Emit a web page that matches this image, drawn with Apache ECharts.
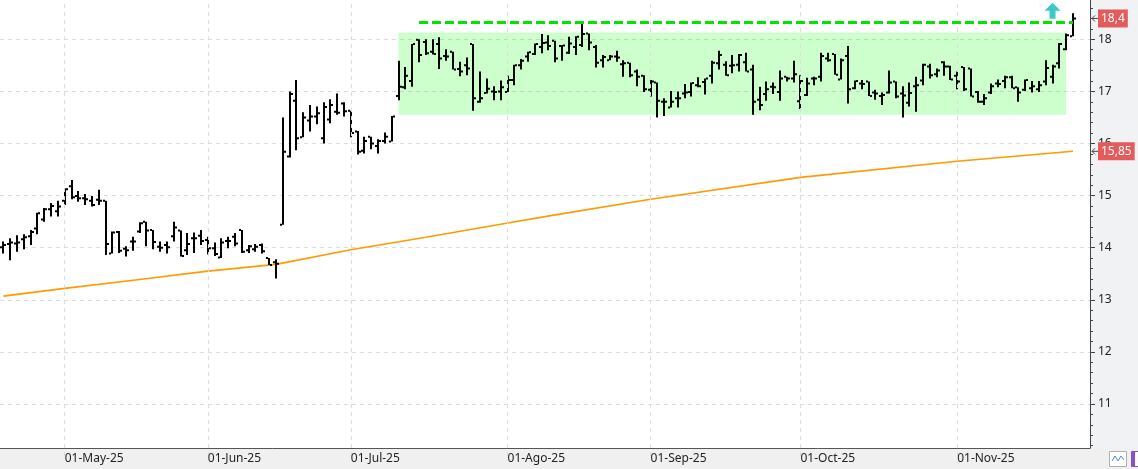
<!DOCTYPE html>
<html>
<head>
<meta charset="utf-8">
<title>Chart</title>
<script src="https://cdn.jsdelivr.net/npm/echarts@6/dist/echarts.min.js"></script>
<style>
  html, body { margin: 0; padding: 0; background: #f1f2f4; }
  #chart { width: 1138px; height: 469px; }
</style>
</head>
<body>
<div id="chart"></div>
<script>
// trading days per month (Apr..Nov 2025), last two Nov days are empty space on the right
const monthNames = ['Apr', 'May', 'Jun', 'Jul', 'Ago', 'Sep', 'Oct', 'Nov'];
const monthDays = [
  [16, 17, 22, 23, 24, 25, 28, 29, 30],
  [2, 5, 6, 7, 8, 9, 12, 13, 14, 15, 16, 19, 20, 21, 22, 23, 26, 27, 28, 29, 30],
  [2, 3, 4, 5, 6, 9, 10, 11, 12, 13, 16, 17, 18, 19, 20, 23, 24, 25, 26, 27, 30],
  [1, 2, 3, 4, 7, 8, 9, 10, 11, 14, 15, 16, 17, 18, 21, 22, 23, 24, 25, 28, 29, 30, 31],
  [1, 4, 5, 6, 7, 8, 11, 12, 13, 14, 15, 18, 19, 20, 21, 22, 25, 26, 27, 28, 29],
  [1, 2, 3, 4, 5, 8, 9, 10, 11, 12, 15, 16, 17, 18, 19, 22, 23, 24, 25, 26, 29, 30],
  [1, 2, 3, 6, 7, 8, 9, 10, 13, 14, 15, 16, 17, 20, 21, 22, 23, 24, 27, 28, 29, 30, 31],
  [3, 4, 5, 6, 7, 10, 11, 12, 13, 14, 17, 18, 19, 20, 21, 24, 25, 26, 27, 28]
];

// [open, high, low, close]
const bars = [
  // abr
  [14.01, 14.12, 13.89, 14.05], [14.07, 14.18, 13.76, 14.10], [14.08, 14.24, 13.92, 14.10],
  [14.16, 14.26, 13.97, 14.20], [14.22, 14.34, 14.05, 14.30], [14.37, 14.67, 14.26, 14.66],
  [14.54, 14.76, 14.50, 14.74], [14.74, 14.86, 14.60, 14.80], [14.70, 14.90, 14.60, 14.79],
  // may
  [14.90, 15.14, 14.82, 15.12], [15.18, 15.30, 14.93, 14.97], [14.99, 15.09, 14.88, 14.95],
  [14.95, 15.03, 14.82, 14.93], [14.90, 14.99, 14.79, 14.82], [14.92, 15.11, 14.82, 14.90],
  [14.90, 14.90, 13.86, 14.07], [13.89, 14.31, 13.89, 14.29], [14.30, 14.32, 13.90, 13.94],
  [13.98, 14.03, 13.83, 13.95], [14.12, 14.21, 13.94, 14.12], [14.31, 14.49, 14.28, 14.47],
  [14.50, 14.50, 14.03, 14.33], [14.34, 14.34, 13.97, 14.11], [14.02, 14.12, 13.92, 14.00],
  [14.05, 14.12, 13.89, 14.01], [14.22, 14.50, 14.12, 14.39], [14.33, 14.33, 13.83, 13.84],
  [13.95, 14.28, 13.86, 14.07], [14.18, 14.29, 13.90, 14.18], [14.23, 14.34, 14.05, 14.13],
  // jun
  [14.15, 14.21, 13.87, 13.99], [13.99, 14.10, 13.84, 13.88], [13.81, 14.18, 13.80, 14.10],
  [14.13, 14.21, 13.99, 14.13], [14.21, 14.28, 14.03, 14.08], [14.34, 14.34, 13.90, 13.92],
  [13.95, 14.05, 13.90, 14.03], [13.97, 14.07, 13.92, 14.02], [14.05, 14.08, 13.89, 13.93],
  [13.80, 13.80, 13.67, 13.67], [13.72, 13.78, 13.41, 13.69], [14.44, 16.50, 14.44, 15.84],
  [15.75, 17.00, 15.73, 16.95], [16.82, 17.22, 15.87, 16.10], [16.12, 16.60, 16.12, 16.50],
  [16.44, 16.74, 16.23, 16.52], [16.52, 16.71, 16.37, 16.58], [16.10, 16.79, 16.00, 16.70],
  [16.46, 16.85, 16.39, 16.74], [16.61, 16.96, 16.55, 16.59], [16.77, 16.79, 16.52, 16.62],
  // jul
  [16.63, 16.63, 16.12, 16.20], [16.23, 16.24, 15.79, 15.84], [15.86, 16.13, 15.81, 16.05],
  [16.13, 16.13, 15.89, 16.00], [15.95, 16.08, 15.81, 16.05], [16.05, 16.21, 16.00, 16.13],
  [16.04, 16.53, 16.04, 16.52], [16.91, 17.59, 16.83, 17.09], [17.08, 17.47, 17.04, 17.30],
  [17.20, 17.91, 17.09, 17.91], [17.99, 18.00, 17.56, 17.70], [17.95, 18.00, 17.70, 17.73],
  [17.76, 18.00, 17.71, 17.72], [17.91, 18.04, 17.43, 17.63], [17.68, 17.81, 17.59, 17.67],
  [17.76, 17.76, 17.42, 17.42], [17.43, 17.57, 17.29, 17.38], [17.50, 17.65, 17.31, 17.44],
  [17.91, 17.91, 16.63, 16.87], [16.80, 17.38, 16.78, 16.87], [16.97, 17.25, 16.96, 17.05],
  [17.00, 17.10, 16.83, 16.99], [17.00, 17.21, 16.83, 17.08],
  // ago
  [16.99, 17.30, 16.99, 17.22], [17.22, 17.51, 17.12, 17.50], [17.50, 17.62, 17.42, 17.59],
  [17.67, 17.76, 17.57, 17.75], [17.72, 17.92, 17.70, 17.91], [17.85, 18.10, 17.73, 17.93],
  [17.94, 18.08, 17.79, 17.87], [17.97, 17.97, 17.56, 17.63], [17.87, 17.89, 17.59, 17.88],
  [17.74, 18.05, 17.72, 17.92], [17.85, 18.06, 17.70, 18.05], [17.89, 18.34, 17.85, 18.10],
  [18.11, 18.11, 17.79, 17.94], [17.85, 17.89, 17.46, 17.55], [17.60, 17.70, 17.46, 17.66],
  [17.60, 17.70, 17.60, 17.67], [17.67, 17.78, 17.57, 17.65], [17.52, 17.60, 17.28, 17.54],
  [17.55, 17.55, 17.27, 17.31], [17.38, 17.42, 17.10, 17.28], [17.30, 17.31, 16.99, 17.04],
  // sep
  [17.03, 17.22, 16.90, 17.19], [17.17, 17.17, 16.50, 16.82], [16.80, 16.87, 16.53, 16.80],
  [16.69, 17.01, 16.69, 16.80], [16.87, 17.00, 16.69, 16.87], [16.96, 17.14, 16.87, 16.98],
  [16.99, 17.17, 16.90, 17.16], [17.12, 17.27, 17.08, 17.10], [17.18, 17.25, 16.94, 17.25],
  [17.30, 17.59, 17.15, 17.55], [17.54, 17.78, 17.42, 17.70], [17.51, 17.58, 17.30, 17.31],
  [17.49, 17.70, 17.35, 17.50], [17.51, 17.72, 17.38, 17.70], [17.56, 17.74, 17.38, 17.38],
  [17.42, 17.51, 16.55, 16.80], [16.84, 17.09, 16.64, 16.74], [16.95, 17.19, 16.82, 17.04],
  [17.09, 17.17, 16.95, 17.08], [16.99, 17.40, 16.82, 17.25], [17.28, 17.28, 17.19, 17.25],
  [17.25, 17.59, 17.17, 17.33],
  // oct
  [16.81, 17.31, 16.66, 17.20], [16.93, 17.26, 16.91, 17.15], [17.25, 17.28, 17.12, 17.25],
  [17.28, 17.74, 17.19, 17.68], [17.63, 17.74, 17.57, 17.60], [17.72, 17.72, 17.32, 17.32],
  [17.23, 17.63, 17.23, 17.60], [17.68, 17.87, 16.77, 17.04], [17.06, 17.21, 17.04, 17.20],
  [17.15, 17.22, 17.04, 17.14], [17.19, 17.19, 16.91, 16.91], [16.98, 17.03, 16.84, 16.96],
  [16.91, 16.98, 16.74, 16.93], [16.98, 17.40, 16.96, 17.17], [17.19, 17.19, 16.87, 16.90],
  [16.96, 17.10, 16.50, 16.92], [16.78, 17.17, 16.71, 16.97], [17.10, 17.28, 16.61, 17.12],
  [17.21, 17.53, 17.12, 17.51], [17.48, 17.53, 17.25, 17.31], [17.33, 17.44, 17.27, 17.40],
  [17.56, 17.58, 17.30, 17.48], [17.48, 17.49, 17.22, 17.23],
  // nov
  [17.30, 17.38, 17.04, 17.19], [17.47, 17.47, 17.01, 17.04], [17.44, 17.44, 16.90, 16.90],
  [16.99, 17.01, 16.78, 16.80], [16.80, 16.95, 16.74, 16.87], [16.98, 17.15, 16.95, 17.10],
  [17.15, 17.23, 17.08, 17.14], [17.20, 17.30, 17.06, 17.27], [17.27, 17.30, 17.06, 17.06],
  [17.08, 17.08, 16.80, 16.98], [17.03, 17.23, 17.01, 17.22], [17.06, 17.20, 16.98, 17.10],
  [17.04, 17.20, 16.99, 17.12], [17.19, 17.60, 17.12, 17.45], [17.28, 17.51, 17.15, 17.48],
  [17.54, 17.93, 17.44, 17.91], [17.81, 18.11, 17.79, 18.08], [18.06, 18.50, 18.06, 18.40]
];

// moving average read at a few bars: [bar index, value]
const maPoints = [
  [0, 13.07], [9, 13.22], [20, 13.39], [30, 13.55], [40, 13.68], [51, 13.96], [62, 14.20],
  [73, 14.45], [81, 14.63], [95, 14.93], [117, 15.35], [140, 15.66], [157, 15.85]
];

// range box, resistance line and signal arrow
const boxFrom = 58, boxTo = 156, boxTop = 18.13, boxBottom = 16.55;
const resFrom = 61, resTo = 157, resLevel = 18.32;
const arrowAt = 154, arrowLevel = 18.55;

const yTicks = [11, 12, 13, 14, 15, 16, 17, 18];

const dates = [];
monthDays.forEach((days, m) => {
  days.forEach(d => dates.push(String(d).padStart(2, '0') + '-' + monthNames[m] + '-25'));
});
const isMonthStart = i => i > 0 && dates[i].slice(3) !== dates[i - 1].slice(3);
const monthStarts = dates.filter((d, i) => isMonthStart(i));

const chart = echarts.init(document.getElementById('chart'));
const font = '"Noto Sans", sans-serif';

function renderBar(params, api) {
  const i = api.value(0);
  const hi = api.coord([i, api.value(2)]);
  const lo = api.coord([i, api.value(3)]);
  const op = api.coord([i, api.value(1)]);
  const cl = api.coord([i, api.value(4)]);
  const cx = Math.round(hi[0]);
  return {
    type: 'group',
    children: [
      { type: 'rect', shape: { x: cx - 1, y: hi[1], width: 2, height: Math.max(lo[1] - hi[1], 1) }, style: { fill: '#000' } },
      { type: 'rect', shape: { x: cx - 3, y: op[1] - 1, width: 2, height: 2 }, style: { fill: '#000' } },
      { type: 'rect', shape: { x: cx + 1, y: cl[1] - 1, width: 2, height: 2 }, style: { fill: '#000' } }
    ]
  };
}

// y scale: 18 at y=39.3, 52.1px per unit -> 19 above the top, 10 below the x axis
const option = {
  animation: false,
  backgroundColor: '#f1f2f4',
  textStyle: { fontFamily: font },
  grid: {
    left: 0, right: 48, top: -12.8, bottom: 12.9,
    show: true, backgroundColor: '#fff', borderWidth: 0,
    containLabel: false, outerBoundsMode: 'none'
  },
  xAxis: {
    type: 'category',
    data: dates,
    boundaryGap: true,
    offset: -8.1,
    z: 10,
    axisLine: { lineStyle: { color: '#555', width: 1 } },
    axisTick: { alignWithLabel: true, interval: isMonthStart, length: 7, lineStyle: { color: '#555' } },
    axisLabel: {
      interval: isMonthStart,
      formatter: v => '01-' + v.slice(3),
      align: 'left', margin: 5, color: '#222', fontSize: 12, fontFamily: font
    },
    splitLine: { show: false }
  },
  yAxis: {
    type: 'value',
    position: 'right',
    min: 10, max: 19, interval: 1,
    axisLine: { show: true, lineStyle: { color: '#444' } },
    axisTick: { show: true, length: 5, lineStyle: { color: '#444' } },
    minorTick: { show: true, splitNumber: 5, length: 3, lineStyle: { color: '#444' } },
    axisLabel: {
      margin: 8, color: '#222', fontSize: 12, fontFamily: font,
      formatter: v => (yTicks.includes(v) ? String(v) : '')
    },
    splitLine: { show: true, lineStyle: { color: '#dcdcdc', type: [4, 4] } }
  },
  series: [
    {
      name: 'MA',
      type: 'line',
      z: 1,
      data: maPoints.map(p => [dates[p[0]], p[1]]),
      showSymbol: false,
      lineStyle: { color: '#ff9a00', width: 1.6 },
      markLine: {
        silent: true, symbol: ['none', 'none'], label: { show: false },
        lineStyle: { color: '#dcdcdc', type: [4, 4], width: 1 },
        data: monthStarts.map(d => ({ xAxis: d }))
      },
      markArea: {
        silent: true,
        itemStyle: { color: 'rgba(0,255,0,0.2)' },
        data: [[{ coord: [dates[boxFrom], boxTop] }, { coord: [dates[boxTo], boxBottom] }]]
      }
    },
    {
      name: 'OHLC',
      type: 'custom',
      z: 2,
      renderItem: renderBar,
      encode: { x: 0, y: [1, 2, 3, 4] },
      data: bars.map((b, i) => [i, b[0], b[1], b[2], b[3]]),
      markLine: {
        silent: true, symbol: ['none', 'none'], label: { show: false },
        lineStyle: { color: '#00e400', width: 3, type: [9, 4] },
        data: [[{ coord: [dates[resFrom], resLevel] }, { coord: [dates[resTo], resLevel] }]]
      },
      markPoint: {
        silent: true,
        symbol: 'path://M8,0 L16,8 L11,8 L11,16 L5,16 L5,8 L0,8 Z',
        symbolSize: [16, 16],
        itemStyle: { color: '#3ec9c9' },
        label: { show: false },
        data: [{ coord: [dates[arrowAt], arrowLevel] }]
      }
    }
  ],
  graphic: []
};
chart.setOption(option);

function priceTag(value, text) {
  const y = chart.convertToPixel({ yAxisIndex: 0 }, value);
  return [
    { type: 'polyline', z: 20, shape: { points: [[1095, y - 3], [1092, y], [1095, y + 3]] }, style: { stroke: '#444', lineWidth: 1, fill: null } },
    { type: 'line', z: 20, shape: { x1: 1092, y1: y, x2: 1098, y2: y }, style: { stroke: '#444', lineWidth: 1 } },
    {
      type: 'text', z: 21, x: 1098, y: y,
      style: {
        text: text, fill: '#fff', font: '12px ' + font, verticalAlign: 'middle',
        backgroundColor: '#e35b5b', padding: [3, 3, 3, 3]
      }
    }
  ];
}

const lastClose = bars[bars.length - 1][3];
const lastMa = maPoints[maPoints.length - 1][1];

chart.setOption({
  graphic: [
    // bottom date strip over the part of the grid below the x axis
    { type: 'rect', z: 5, shape: { x: 0, y: 448.5, width: 1138, height: 21 }, style: { fill: '#f0f0f0' } },
    { type: 'rect', z: 11, shape: { x: 1109.5, y: 451.5, width: 17, height: 15 }, style: { fill: '#fff', stroke: '#b0b0b0', lineWidth: 1 } },
    { type: 'polyline', z: 12, shape: { points: [[1112, 461], [1115, 456], [1118, 461], [1121, 456], [1124, 460]] }, style: { stroke: '#5b8bd0', lineWidth: 1, fill: null } },
    { type: 'rect', z: 11, shape: { x: 1131.5, y: 451.5, width: 10, height: 15 }, style: { fill: '#fff', stroke: '#8a4fc8', lineWidth: 1 } },
    { type: 'rect', z: 12, shape: { x: 1132, y: 452, width: 3, height: 14 }, style: { fill: '#8a4fc8' } }
  ]
    .concat(priceTag(lastClose, String(lastClose).replace('.', ',')))
    .concat(priceTag(lastMa, String(lastMa).replace('.', ',')))
});
</script>
</body>
</html>
